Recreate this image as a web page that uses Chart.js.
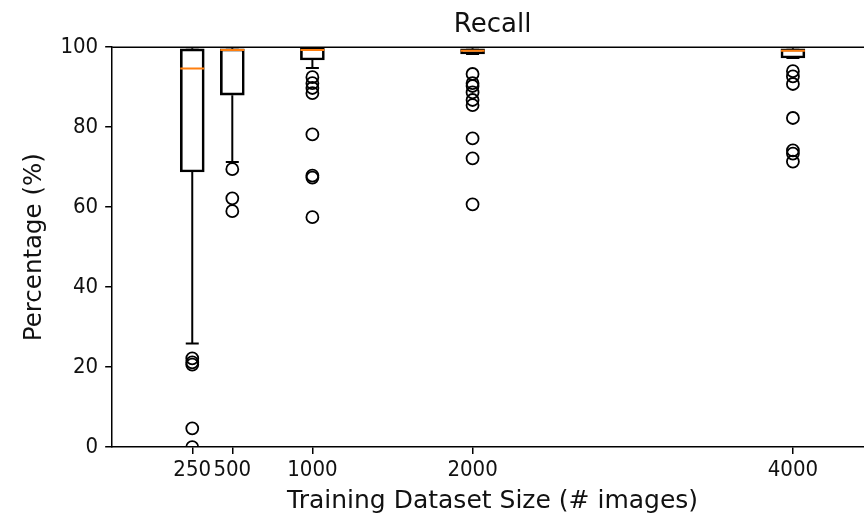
<!DOCTYPE html>
<html>
<head>
<meta charset="utf-8">
<script src="https://cdn.jsdelivr.net/npm/chart.js@4.4.0/dist/chart.umd.min.js"></script>
<style>
    html, body { margin: 0; padding: 0; background: #fff; overflow: hidden; }
    #wrap { width: 864px; height: 515px; overflow: hidden; }
</style>
</head>
<body>
<div id="wrap"><canvas id="chart" width="873" height="515"></canvas></div>
<script>
// training set sizes (box positions / x ticks)
const sizes = [250, 500, 1000, 2000, 4000];

// box statistics, percent
const q1 = [68.8, 88.0, 96.8, 98.3, 97.3];
const q3 = [99.6, 99.6, 99.7, 99.6, 99.6];
const medians = [94.7, 99.3, 99.3, 99.1, 99.1];
const whiskerLow = [25.9, 71.3, 94.8, 98.3, 97.3];
const whiskerHigh = [100, 100, 100, 100, 100];

// outliers per box
const outliers250 = [22.2, 21.2, 20.6, 4.7, 0];
const outliers500 = [69.5, 62.2, 59.0];
const outliers1000 = [92.5, 91.0, 89.8, 88.5, 78.2, 67.9, 67.4, 57.5];
const outliers2000 = [93.3, 91.0, 90.3, 88.7, 86.8, 85.5, 77.2, 72.2, 60.7];
const outliers4000 = [94.0, 92.7, 90.8, 82.3, 74.2, 73.4, 71.4];

const yTicks = [0, 20, 40, 60, 80, 100];
const xMin = -250;
const xMax = 4500;

const outlierGroups = [outliers250, outliers500, outliers1000, outliers2000, outliers4000];

const boxData = sizes.map((s, i) => ({ x: s, y: [q1[i], q3[i]] }));

const whiskerData = [];
sizes.forEach((s, i) => {
    whiskerData.push({ x: s, y: q1[i] }, { x: s, y: whiskerLow[i] }, { x: s, y: null });
    whiskerData.push({ x: s, y: q3[i] }, { x: s, y: whiskerHigh[i] }, { x: s, y: null });
});

const capData = [];
sizes.forEach((s, i) => {
    capData.push({ x: s, y: whiskerLow[i] }, { x: s, y: whiskerHigh[i] });
});

const medianData = sizes.map((s, i) => ({ x: s, y: medians[i] }));

const outlierData = [];
outlierGroups.forEach((group, i) => {
    group.forEach(v => outlierData.push({ x: sizes[i], y: v }));
});

// matplotlib style closed top spine
const topSpine = {
    id: 'topSpine',
    afterDraw(chart) {
        const { ctx, chartArea } = chart;
        ctx.save();
        ctx.strokeStyle = '#000';
        ctx.lineWidth = 1.5;
        ctx.beginPath();
        ctx.moveTo(chartArea.left, chartArea.top);
        ctx.lineTo(chartArea.right, chartArea.top);
        ctx.stroke();
        ctx.restore();
    }
};

const ink = '#000';
const textInk = '#111';
const font = 'DejaVu Sans';
const tickFont = "'DejaVu Sans Condensed', 'DejaVu Sans'";

new Chart(document.getElementById('chart'), {
    type: 'bar',
    data: {
        datasets: [
            {
                type: 'bar',
                data: boxData,
                backgroundColor: 'rgba(0,0,0,0)',
                borderColor: ink,
                borderWidth: 2,
                borderSkipped: false,
                barThickness: 24,
                order: 5
            },
            {
                type: 'line',
                data: whiskerData,
                borderColor: ink,
                borderWidth: 2,
                pointRadius: 0,
                spanGaps: false,
                tension: 0,
                order: 4
            },
            {
                type: 'scatter',
                data: capData,
                pointStyle: 'line',
                pointRadius: 6.5,
                borderColor: ink,
                pointBorderWidth: 2,
                order: 3
            },
            {
                type: 'scatter',
                data: medianData,
                pointStyle: 'line',
                pointRadius: 12,
                borderColor: '#ff7f0e',
                pointBorderWidth: 2,
                order: 2
            },
            {
                type: 'scatter',
                data: outlierData,
                pointStyle: 'circle',
                pointRadius: 6,
                borderColor: ink,
                backgroundColor: 'rgba(0,0,0,0)',
                pointBorderWidth: 1.8,
                order: 1
            }
        ]
    },
    options: {
        responsive: false,
        animation: false,
        events: [],
        layout: { autoPadding: false, padding: { left: 20, right: 0, top: 0, bottom: 0 } },
        plugins: {
            legend: { display: false },
            tooltip: { enabled: false },
            title: {
                display: true,
                text: 'Recall',
                fullSize: false,
                color: textInk,
                font: { family: font, size: 26, weight: 'normal' },
                padding: { top: 10, bottom: 6 }
            }
        },
        scales: {
            x: {
                type: 'linear',
                min: xMin,
                max: xMax,
                offset: false,
                afterBuildTicks: axis => { axis.ticks = sizes.map(v => ({ value: v })); },
                grid: { drawOnChartArea: false, offset: false, tickLength: 7, lineWidth: 1.5, color: ink },
                border: { color: ink, width: 1.5 },
                ticks: {
                    autoSkip: false,
                    maxRotation: 0,
                    color: textInk,
                    padding: 3,
                    font: { family: tickFont, size: 22 },
                    callback: v => String(v)
                },
                title: {
                    display: true,
                    text: 'Training Dataset Size (# images)',
                    color: textInk,
                    font: { family: font, size: 25, lineHeight: 1.1 },
                    padding: { top: 1, bottom: 0 }
                }
            },
            y: {
                min: 0,
                max: 100,
                afterBuildTicks: axis => { axis.ticks = yTicks.map(v => ({ value: v })); },
                grid: { drawOnChartArea: false, tickLength: 7, lineWidth: 1.5, color: ink },
                border: { color: ink, width: 1.5 },
                ticks: {
                    color: textInk,
                    padding: 7,
                    font: { family: tickFont, size: 22 },
                    callback: v => String(v)
                },
                title: {
                    display: true,
                    text: 'Percentage (%)',
                    color: textInk,
                    font: { family: font, size: 24.5 },
                    padding: { top: 0, bottom: 4 }
                }
            }
        }
    },
    plugins: [topSpine]
});
</script>
</body>
</html>
